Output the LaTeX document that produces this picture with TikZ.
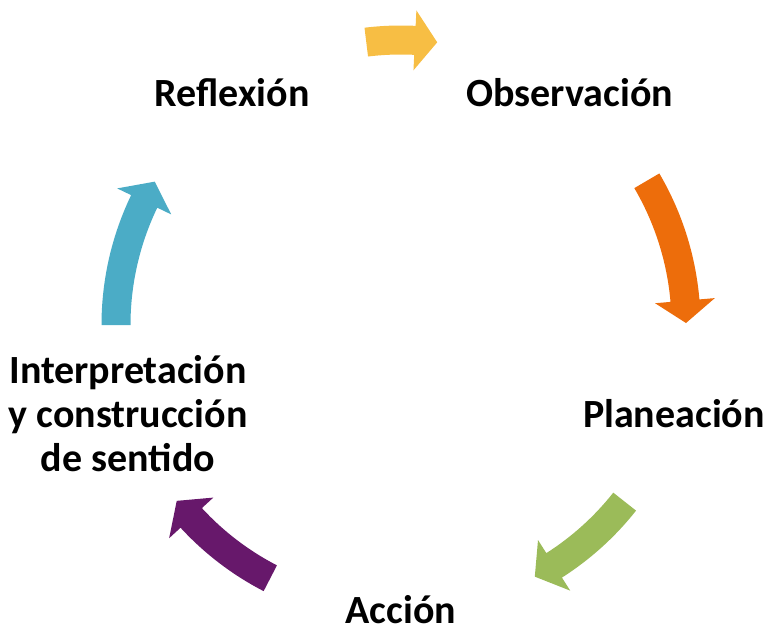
\documentclass[tikz,border=0pt]{standalone}
\usepackage{fontspec}
\setmainfont{Carlito}
\usetikzlibrary{calc}

\definecolor{arrYellow}{HTML}{F7BE44}
\definecolor{arrOrange}{HTML}{ED6D0B}
\definecolor{arrGreen}{HTML}{9BBB59}
\definecolor{arrPurple}{HTML}{67186B}
\definecolor{arrTeal}{HTML}{4BACC6}

% curved block arrow round (c): colour, start angle, tip angle
\newcommand{\cyclearrow}[3]{%
  \pgfmathsetmacro{\headang}{#3+4.5}
  \fill[#1] ($(c)+(#2:299.5pt)$) arc[start angle=#2, end angle=\headang, radius=299.5pt]
    -- ($(c)+(\headang:315pt)$) -- ($(c)+(#3:285pt)$) -- ($(c)+(\headang:255pt)$)
    -- ($(c)+(\headang:270.5pt)$) arc[start angle=\headang, end angle=#2, radius=270.5pt] -- cycle;
}

\begin{document}
\begin{tikzpicture}[x=1pt,y=1pt,
  lbl/.style={font=\fontsize{40}{44}\selectfont\bfseries, align=center, inner sep=0pt}]
    \useasboundingbox (0,0) rectangle (775,633);
    \coordinate (c) at (401,308);

    \node[lbl] (obs) at ($(c)+(54:287pt)$) {Observación};
    \node[lbl] (pla) at ($(c)+(-18:287pt)$) {Planeación};
    \node[lbl] (acc) at ($(c)+(-90:285pt)$) {Acción};
    \node[lbl] (int) at ($(c)+(198:287pt)$) {Interpretación\\y construcción\\de sentido};
    \node[lbl] (ref) at ($(c)+(126:287pt)$) {Reflexión};

    \cyclearrow{arrYellow}{97}{82.7}
    \cyclearrow{arrOrange}{30.4}{0.4}
    \cyclearrow{arrGreen}{-38.3}{-62}
    \cyclearrow{arrPurple}{-117.3}{-141.9}
    \cyclearrow{arrTeal}{180}{149.8}
\end{tikzpicture}
\end{document}
